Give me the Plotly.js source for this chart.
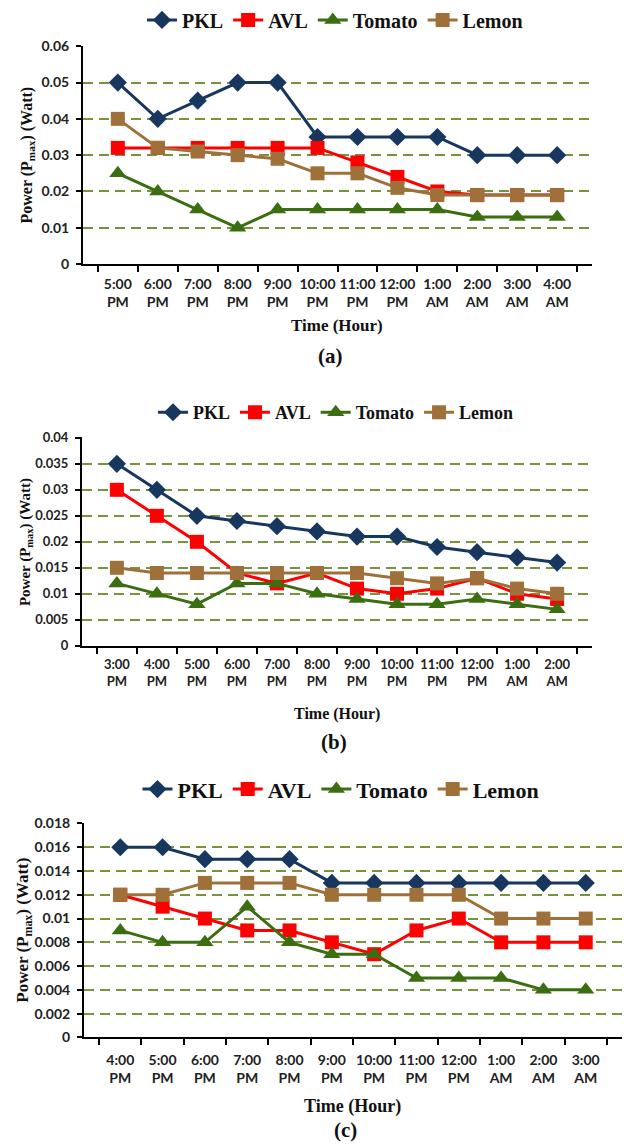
<!DOCTYPE html>
<html>
<head>
<meta charset="utf-8">
<script src="https://cdn.plot.ly/plotly-3.0.1.min.js"></script>
<style>html,body{margin:0;padding:0;background:#fff;}#chart{width:629px;height:1146px;}</style>
</head>
<body>
<div id="chart"></div>
<script>
// ---- Data ----
const timesA = ["5:00<br>PM","6:00<br>PM","7:00<br>PM","8:00<br>PM","9:00<br>PM","10:00<br>PM","11:00<br>PM","12:00<br>PM","1:00<br>AM","2:00<br>AM","3:00<br>AM","4:00<br>AM"];
const pklA    = [0.050,0.040,0.045,0.050,0.050,0.035,0.035,0.035,0.035,0.030,0.030,0.030];
const avlA    = [0.032,0.032,0.032,0.032,0.032,0.032,0.028,0.024,0.020,0.019,0.019,0.019];
const tomatoA = [0.025,0.020,0.015,0.010,0.015,0.015,0.015,0.015,0.015,0.013,0.013,0.013];
const lemonA  = [0.040,0.032,0.031,0.030,0.029,0.025,0.025,0.021,0.019,0.019,0.019,0.019];

const timesB = ["3:00<br>PM","4:00<br>PM","5:00<br>PM","6:00<br>PM","7:00<br>PM","8:00<br>PM","9:00<br>PM","10:00<br>PM","11:00<br>PM","12:00<br>PM","1:00<br>AM","2:00<br>AM"];
const pklB    = [0.035,0.030,0.025,0.024,0.023,0.022,0.021,0.021,0.019,0.018,0.017,0.016];
const avlB    = [0.030,0.025,0.020,0.014,0.012,0.014,0.011,0.010,0.011,0.013,0.010,0.009];
const tomatoB = [0.012,0.010,0.008,0.012,0.012,0.010,0.009,0.008,0.008,0.009,0.008,0.007];
const lemonB  = [0.015,0.014,0.014,0.014,0.014,0.014,0.014,0.013,0.012,0.013,0.011,0.010];

const timesC = ["4:00<br>PM","5:00<br>PM","6:00<br>PM","7:00<br>PM","8:00<br>PM","9:00<br>PM","10:00<br>PM","11:00<br>PM","12:00<br>PM","1:00<br>AM","2:00<br>AM","3:00<br>AM"];
const pklC    = [0.016,0.016,0.015,0.015,0.015,0.013,0.013,0.013,0.013,0.013,0.013,0.013];
const avlC    = [0.012,0.011,0.010,0.009,0.009,0.008,0.007,0.009,0.010,0.008,0.008,0.008];
const tomatoC = [0.009,0.008,0.008,0.011,0.008,0.007,0.007,0.005,0.005,0.005,0.004,0.004];
const lemonC  = [0.012,0.012,0.013,0.013,0.013,0.012,0.012,0.012,0.012,0.010,0.010,0.010];

const seriesNames = ["PKL","AVL","Tomato","Lemon"];
const panelLabels = ["(a)","(b)","(c)"];

// ---- Styles ----
const colors = ["#17375E","#FF0000","#3B6E11","#A0703A"];
const symbols = ["diamond","square","triangle-up","square"];
const panels = [
  {x: timesA, ys:[pklA,avlA,tomatoA,lemonA], xa:"x",  ya:"y",  lg:"legend"},
  {x: timesB, ys:[pklB,avlB,tomatoB,lemonB], xa:"x2", ya:"y2", lg:"legend2"},
  {x: timesC, ys:[pklC,avlC,tomatoC,lemonC], xa:"x3", ya:"y3", lg:"legend3"}
];
const traces = [];
panels.forEach(p => {
  p.ys.forEach((y,i) => {
    traces.push({
      type:"scatter", mode:"lines+markers", name: seriesNames[i],
      x: p.x, y: y, xaxis: p.xa, yaxis: p.ya, legend: p.lg,
      line:{color: colors[i], width:3},
      marker:{color: colors[i], symbol: symbols[i], size: (i===2?15:14)},
      cliponaxis:false
    });
  });
});

const H = 1146, W = 629;
const py = v => 1 - v / H;
const px = v => v / W;
const sans = "Lato, Open Sans, sans-serif";
const serif = "Liberation Serif, Times New Roman, serif";

function xAxis(anchor, d0, d1, fs, so){
  return {
    type:"category", anchor: anchor, domain:[px(d0), px(d1)],
    showline:true, linecolor:"#000", linewidth:2,
    ticks:"outside", tickson:"boundaries", ticklen:6, tickwidth:2, tickcolor:"#000",
    tickangle:0, ticklabelstandoff:so,
    showgrid:false, zeroline:false, fixedrange:true,
    tickfont:{family:sans, size:fs, color:"#222", weight:"bold"}
  };
}
function yAxis(anchor, b, t, range, dtick, fs){
  return {
    anchor: anchor, domain:[py(b), py(t)], range: range, dtick: dtick, tick0:0,
    showline:true, linecolor:"#000", linewidth:2,
    ticks:"outside", ticklen:5, tickwidth:2, tickcolor:"#000",
    showgrid:true, gridcolor:"#77933C", gridwidth:2, griddash:"10px,6px",
    zeroline:false, fixedrange:true, ticklabelstandoff:4,
    tickfont:{family:sans, size:fs, color:"#222", weight:"bold"}
  };
}
function legend(xc, yc, fs){
  return {
    orientation:"h", x: px(xc), xanchor:"center", y: py(yc), yanchor:"middle",
    font:{family:serif, size:fs, color:"#111", weight:"bold"},
    bgcolor:"rgba(0,0,0,0)", itemwidth:30, tracegroupgap:0
  };
}
function ann(text, xc, yc, fs, angle){
  return {text:text, xref:"paper", yref:"paper", x:px(xc), y:py(yc), xanchor:"center", yanchor:"middle",
    showarrow:false, textangle: angle||0, font:{family:serif, size:fs, color:"#111", weight:"bold"}};
}

const layout = {
  width: W, height: H, margin:{l:0,r:0,t:0,b:0},
  paper_bgcolor:"#fff", plot_bgcolor:"#fff", showlegend:true,
  xaxis:  xAxis("y",  83, 592, 14, 6),
  yaxis:  yAxis("x",  261, 42, [0,0.0601], 0.01, 14),
  xaxis2: xAxis("y2", 82, 592, 13, 6),
  yaxis2: yAxis("x2", 644, 435, [0,0.04007], 0.005, 13),
  xaxis3: xAxis("y3", 84, 622, 14, 9),
  yaxis3: yAxis("x3", 1037, 822, [0,0.01803], 0.002, 14),
  legend:  legend(335, 16, 20),
  legend2: legend(336, 410, 18),
  legend3: legend(341, 788, 22),
  annotations:[
    ann("Power (P<sub>max</sub>) (Watt)", 27, 152, 16, -90),
    ann("Time (Hour)", 337, 323, 17),
    ann(panelLabels[0], 330, 353, 21),
    ann("Power (P<sub>max</sub>) (Watt)", 26, 540, 15, -90),
    ann("Time (Hour)", 337, 712, 16),
    ann(panelLabels[1], 334, 741, 21),
    ann("Power (P<sub>max</sub>) (Watt)", 24, 930, 17, -90),
    ann("Time (Hour)", 352, 1106, 18),
    ann(panelLabels[2], 345, 1130, 21)
  ]
};
Plotly.newPlot("chart", traces, layout, {staticPlot:true, displayModeBar:false});
</script>
</body>
</html>
